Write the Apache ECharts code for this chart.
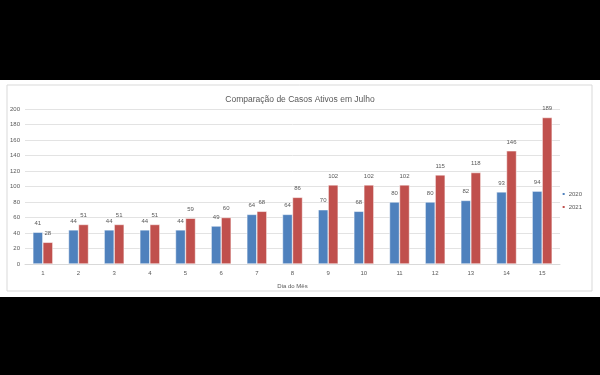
<!DOCTYPE html>
<html>
<head>
<meta charset="utf-8">
<script src="https://cdn.jsdelivr.net/npm/echarts@6/dist/echarts.min.js"></script>
<style>
  html, body { margin: 0; padding: 0; background: #000; }
  #chart { width: 600px; height: 375px; }
</style>
</head>
<body>
<div id="chart"></div>
<script>
// dados
var dias = ['1', '2', '3', '4', '5', '6', '7', '8', '9', '10', '11', '12', '13', '14', '15'];
var casos2020 = [41, 44, 44, 44, 44, 49, 64, 64, 70, 68, 80, 80, 82, 93, 94];
var casos2021 = [28, 51, 51, 51, 59, 60, 68, 86, 102, 102, 102, 115, 118, 146, 189];
var yTicks = { min: 0, max: 200, interval: 20 };

var myChart = echarts.init(document.getElementById('chart'));

var labelStyle = {
    show: true,
    position: 'top',
    distance: 6,
    fontSize: 6,
    color: '#595959',
    fontFamily: 'Liberation Sans'
};

var option = {
    backgroundColor: '#000',
    animation: false,
    textStyle: { fontFamily: 'Liberation Sans' },
    graphic: [{
        type: 'rect',
        shape: { x: 0, y: 80, width: 600, height: 217 },
        style: { fill: '#fff' },
        z: -10
    }, {
        type: 'rect',
        shape: { x: 7, y: 85, width: 585, height: 206 },
        style: { fill: 'none', stroke: '#d9d9d9', lineWidth: 1 },
        z: -9
    }],
    title: {
        text: 'Comparação de Casos Ativos em Julho',
        left: 'center',
        top: 90,
        textStyle: {
            fontSize: 8.5,
            fontWeight: 'normal',
            color: '#595959'
        }
    },
    legend: {
        orient: 'vertical',
        right: 13,
        top: 186,
        itemWidth: 4,
        itemHeight: 4,
        itemGap: 7,
        textStyle: { fontSize: 6, color: '#595959', padding: [0, 0, 0, -2] },
        data: ['2020', '2021']
    },
    grid: {
        left: 25,
        right: 40,
        top: 109,
        bottom: 111
    },
    xAxis: {
        type: 'category',
        data: dias,
        name: 'Dia do Mês',
        nameLocation: 'middle',
        nameGap: 19,
        nameTextStyle: { fontSize: 6, color: '#595959' },
        axisLine: { lineStyle: { color: '#d9d9d9' } },
        axisTick: { show: false },
        axisLabel: { fontSize: 6, color: '#595959', margin: 6 }
    },
    yAxis: {
        type: 'value',
        min: yTicks.min,
        max: yTicks.max,
        interval: yTicks.interval,
        axisLine: { show: false },
        axisTick: { show: false },
        axisLabel: { fontSize: 6, color: '#595959', margin: 5 },
        splitLine: { lineStyle: { color: '#e3e3e3' } }
    },
    series: [{
        name: '2020',
        type: 'bar',
        data: casos2020,
        barWidth: 10,
        barGap: '0%',
        itemStyle: { color: '#4f81bd', borderColor: '#fff', borderWidth: 0.5 },
        label: labelStyle
    }, {
        name: '2021',
        type: 'bar',
        data: casos2021,
        barWidth: 10,
        barGap: '0%',
        itemStyle: { color: '#c0504d', borderColor: '#fff', borderWidth: 0.5 },
        label: labelStyle
    }]
};
myChart.setOption(option);
</script>
</body>
</html>
